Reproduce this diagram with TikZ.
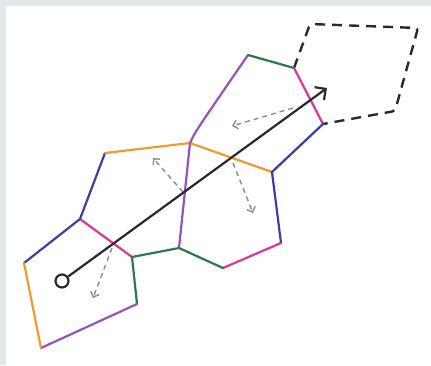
\documentclass[tikz,border=0pt]{standalone}
\usetikzlibrary{arrows.meta}
\definecolor{bgray}{HTML}{E3E8EC}
\definecolor{cblue}{HTML}{3A3FA3}
\definecolor{cmag}{HTML}{D8389B}
\definecolor{cgreen}{HTML}{2B7A48}
\definecolor{cpurp}{HTML}{9A52B8}
\definecolor{corange}{HTML}{F29A2E}
\definecolor{cdark}{HTML}{2A2A2A}
\definecolor{cgrayarr}{HTML}{8E8E8E}
\begin{document}
\begin{tikzpicture}[x=1pt,y=-1pt,
  edge/.style={line width=2.2pt,line cap=round},
  eb/.style={edge,cblue}, em/.style={edge,cmag}, eg/.style={edge,cgreen},
  ep/.style={edge,cpurp}, eo/.style={edge,corange},
  ghost/.style={line width=2.4pt,cdark,dash pattern=on 10pt off 7pt,rounded corners=3pt},
  normalarr/.style={line width=1.4pt,cgrayarr,dash pattern=on 5pt off 4pt,-{Straight Barb[length=4.5pt,width=9pt,line width=1.4pt]}},
  mainarr/.style={line width=2.2pt,cdark,-{Straight Barb[length=8pt,width=16pt,line width=2.2pt]}}
]
\useasboundingbox (0,0) rectangle (431,365);
\fill[bgray] (0,0) rectangle (431,365);
\fill[white] (6,6) rectangle (431,365);
% vertices
\coordinate (A) at (24,263);
\coordinate (B) at (80,219);
\coordinate (C) at (132,257);
\coordinate (D) at (137,304);
\coordinate (E) at (41,348);
\coordinate (F) at (105,153);
\coordinate (G) at (190,143);
\coordinate (H) at (179,248);
\coordinate (I) at (272,172);
\coordinate (J) at (281,243);
\coordinate (K) at (223,268);
\coordinate (L) at (248,55);
\coordinate (M) at (294,68);
\coordinate (N) at (323,124);
\coordinate (P) at (310,24);
\coordinate (Q) at (418,28);
\coordinate (R) at (395,111);
% ghost pentagon
\draw[ghost] (M) -- (P) -- (Q) -- (R) -- (N);
% pentagon 1
\draw[eb] (A) -- (B);
\draw[em] (B) -- (C);
\draw[eg] (C) -- (D);
\draw[ep] (D) -- (E);
\draw[eo] (E) -- (A);
% pentagon 2
\draw[eb] (B) -- (F);
\draw[eo] (F) -- (G);
\draw[ep] (G) -- (H);
\draw[eg] (H) -- (C);
% pentagon 3
\draw[eo] (G) -- (I);
\draw[eb] (I) -- (J);
\draw[em] (J) -- (K);
\draw[eg] (K) -- (H);
% pentagon 4
\draw[ep] (G) .. controls (195,132) .. (L);
\draw[eg] (L) -- (M);
\draw[em] (M) -- (N);
\draw[eb] (N) -- (I);
% normal arrows
\coordinate (n1a) at (112,248); \coordinate (n1b) at (93,298);
\coordinate (n2a) at (183,192); \coordinate (n2b) at (153,158);
\coordinate (n3a) at (233,163); \coordinate (n3b) at (253,213);
\coordinate (n4a) at (293,108); \coordinate (n4b) at (232,126);
\draw[normalarr] (n1a) -- (n1b);
\draw[normalarr] (n2a) -- (n2b);
\draw[normalarr] (n3a) -- (n3b);
\draw[normalarr] (n4a) -- (n4b);
% main arrow
\node[circle,draw=cdark,line width=2.2pt,minimum size=13pt,inner sep=0pt] (s) at (62,281) {};
\coordinate (t) at (327,88);
\draw[mainarr] (s) -- (t);
\end{tikzpicture}
\end{document}
